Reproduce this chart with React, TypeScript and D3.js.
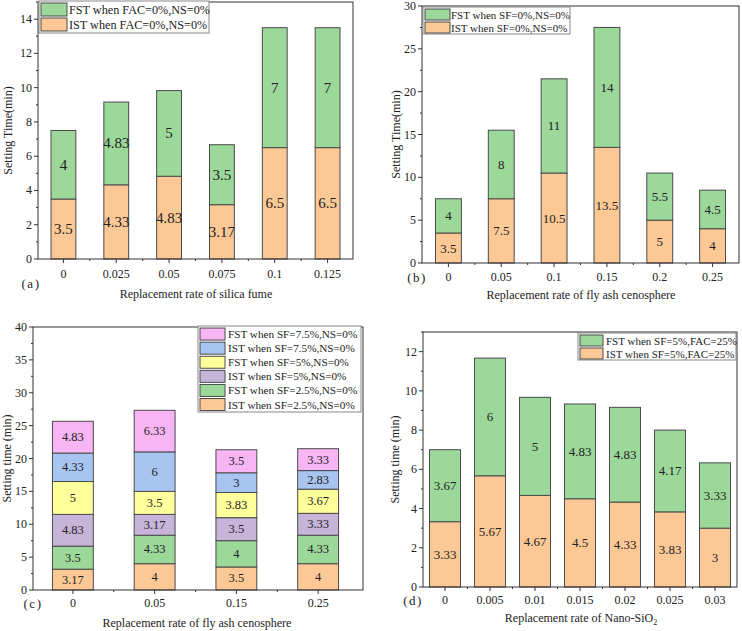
import React from 'react';
import * as d3 from 'd3';

// panel (a) data
const aCats = ['0', '0.025', '0.05', '0.075', '0.1', '0.125'];
const aIST = [3.5, 4.33, 4.83, 3.17, 6.5, 6.5];
const aFST = [4, 4.83, 5, 3.5, 7, 7];

// panel (b) data
const bCats = ['0', '0.05', '0.1', '0.15', '0.2', '0.25'];
const bIST = [3.5, 7.5, 10.5, 13.5, 5, 4];
const bFST = [4, 8, 11, 14, 5.5, 4.5];

// panel (c) data
const cCats = ['0', '0.05', '0.15', '0.25'];
const cIST25 = [3.17, 4, 3.5, 4];
const cFST25 = [3.5, 4.33, 4, 4.33];
const cIST5 = [4.83, 3.17, 3.5, 3.33];
const cFST5 = [5, 3.5, 3.83, 3.67];
const cIST75 = [4.33, 6, 3, 2.83];
const cFST75 = [4.83, 6.33, 3.5, 3.33];

// panel (d) data
const dCats = ['0', '0.005', '0.01', '0.015', '0.02', '0.025', '0.03'];
const dIST = [3.33, 5.67, 4.67, 4.5, 4.33, 3.83, 3];
const dFST = [3.67, 6, 5, 4.83, 4.83, 4.17, 3.33];

const ORANGE = '#FCC996';
const GREEN = '#9DD89B';
const PURPLE = '#C6B4D9';
const YELLOW = '#FFFF9C';
const BLUE = '#A8C5F1';
const PINK = '#F8B5F3';

const FONT = '"Liberation Serif", "Times New Roman", serif';
const INK = '#222';

type Series = { key: string; values: number[]; color: string };
type Cfg = {
  cats: string[];
  series: Series[];
  left: number; right: number; top: number; bottom: number;
  band: [number, number];
  barFrac: number;
  yMax: number; yStep: number; yMinor: number;
  labelSize: number;
  yTitle: string; yTitleX: number;
  xTitle: React.ReactNode; xTitleX: number; xTitleY: number;
  tickY: number;
  tag: string; tagX: number; tagY: number;
  legend: { x: number; y: number; w: number; h: number; row: number; swW: number; swH: number; textDx: number; size: number };
};

const panels: Cfg[] = [
  {
    cats: aCats,
    series: [
      { key: 'IST when FAC=0%,NS=0%', values: aIST, color: ORANGE },
      { key: 'FST when FAC=0%,NS=0%', values: aFST, color: GREEN },
    ],
    left: 38, right: 353, top: 2, bottom: 259, band: [37, 354], barFrac: 0.47,
    yMax: 15, yStep: 2, yMinor: 1, labelSize: 15,
    yTitle: 'Setting Time(min)', yTitleX: 8,
    xTitle: 'Replacement rate of silica fume', xTitleX: 196, xTitleY: 298,
    tickY: 278, tag: '(a)', tagX: 31, tagY: 288,
    legend: { x: 39, y: 1, w: 170, h: 32, row: 15, swW: 26, swH: 13, textDx: 30, size: 12.2 },
  },
  {
    cats: bCats,
    series: [
      { key: 'IST when SF=0%,NS=0%', values: bIST, color: ORANGE },
      { key: 'FST when SF=0%,NS=0%', values: bFST, color: GREEN },
    ],
    left: 422, right: 739, top: 6, bottom: 263, band: [422, 739], barFrac: 0.49,
    yMax: 30, yStep: 5, yMinor: 2.5, labelSize: 13,
    yTitle: 'Setting Time(min)', yTitleX: 396,
    xTitle: 'Replacement rate of fly ash cenosphere', xTitleX: 581, xTitleY: 299,
    tickY: 281, tag: '(b)', tagX: 417, tagY: 282,
    legend: { x: 423, y: 7, w: 147, h: 27, row: 13, swW: 25, swH: 11, textDx: 28, size: 11 },
  },
  {
    cats: cCats,
    series: [
      { key: 'IST when SF=2.5%,NS=0%', values: cIST25, color: ORANGE },
      { key: 'FST when SF=2.5%,NS=0%', values: cFST25, color: GREEN },
      { key: 'IST when SF=5%,NS=0%', values: cIST5, color: PURPLE },
      { key: 'FST when SF=5%,NS=0%', values: cFST5, color: YELLOW },
      { key: 'IST when SF=7.5%,NS=0%', values: cIST75, color: BLUE },
      { key: 'FST when SF=7.5%,NS=0%', values: cFST75, color: PINK },
    ],
    left: 33, right: 363, top: 327, bottom: 590, band: [32, 359], barFrac: 0.5,
    yMax: 40, yStep: 5, yMinor: 2.5, labelSize: 12.5,
    yTitle: 'Setting time (min)', yTitleX: 7,
    xTitle: 'Replacement rate of fly ash cenosphere', xTitleX: 197, xTitleY: 627,
    tickY: 607, tag: '(c)', tagX: 33, tagY: 608,
    legend: { x: 198, y: 326, w: 163, h: 86, row: 14.1, swW: 25, swH: 12, textDx: 30, size: 11.2 },
  },
  {
    cats: dCats,
    series: [
      { key: 'IST when SF=5%,FAC=25%', values: dIST, color: ORANGE },
      { key: 'FST when SF=5%,FAC=25%', values: dFST, color: GREEN },
    ],
    left: 423, right: 737, top: 332, bottom: 587, band: [422.5, 737.5], barFrac: 0.69,
    yMax: 13, yStep: 2, yMinor: 1, labelSize: 13,
    yTitle: 'Setting time (min)', yTitleX: 395,
    xTitle: (
      <>
        Replacement rate of Nano-SiO<tspan fontSize={8} dy={3}>2</tspan>
      </>
    ),
    xTitleX: 581, xTitleY: 622,
    tickY: 604, tag: '(d)', tagX: 413, tagY: 605,
    legend: { x: 578, y: 333, w: 158, h: 27, row: 13, swW: 23, swH: 11, textDx: 28, size: 11 },
  },
];

function Panel({ p }: { p: Cfg }) {
  const x = d3.scaleBand<string>().domain(p.cats).range(p.band).padding(0);
  const step = x.bandwidth();
  const bw = step * p.barFrac;
  const y = d3.scaleLinear().domain([0, p.yMax]).range([p.bottom, p.top]);

  const rows = p.cats.map((c, i) => {
    const r: any = { cat: c };
    p.series.forEach((s) => (r[s.key] = s.values[i]));
    return r;
  });
  const stacked = d3.stack<any>().keys(p.series.map((s) => s.key))(rows);

  const majors = d3.range(0, p.yMax + 1e-6, p.yStep);
  const minors = d3.range(0, p.yMax + 1e-6, p.yMinor).filter((v) => Math.abs(v / p.yStep - Math.round(v / p.yStep)) > 1e-6);
  const xMinors = p.cats.slice(0, -1).map((c) => (x(c) as number) + step);
  const L = p.legend;
  const legendItems = [...p.series].reverse();

  return (
    <g fontFamily={FONT}>
      {/* bars */}
      {stacked.map((layer, li) => (
        <g key={li}>
          {layer.map((d, i) => {
            const cx = (x(p.cats[i]) as number) + step / 2;
            const y0 = y(d[0]);
            const y1 = y(d[1]);
            return (
              <g key={i}>
                <rect x={cx - bw / 2} y={y1} width={bw} height={y0 - y1}
                  fill={p.series[li].color} stroke="#4a4a4a" strokeWidth={1} />
                <text x={cx} y={(y0 + y1) / 2} textAnchor="middle" dominantBaseline="central"
                  fontSize={p.labelSize} fill={INK}>
                  {p.series[li].values[i]}
                </text>
              </g>
            );
          })}
        </g>
      ))}

      {/* frame */}
      <rect x={p.left} y={p.top} width={p.right - p.left} height={p.bottom - p.top}
        fill="none" stroke="#333" strokeWidth={1} />

      {/* y axis */}
      {majors.map((v) => (
        <g key={'ym' + v}>
          <line x1={p.left - 4} x2={p.left} y1={y(v)} y2={y(v)} stroke="#333" />
          <text x={p.left - 6} y={y(v)} textAnchor="end" dominantBaseline="central" fontSize={12} fill={INK}>
            {v}
          </text>
        </g>
      ))}
      {minors.map((v) => (
        <line key={'yn' + v} x1={p.left - 2} x2={p.left} y1={y(v)} y2={y(v)} stroke="#333" />
      ))}

      {/* x axis */}
      {p.cats.map((c) => {
        const cx = (x(c) as number) + step / 2;
        return (
          <g key={'xt' + c}>
            <line x1={cx} x2={cx} y1={p.bottom} y2={p.bottom + 4} stroke="#333" />
            <text x={cx} y={p.tickY} textAnchor="middle" fontSize={12} fill={INK}>{c}</text>
          </g>
        );
      })}
      {xMinors.map((v, i) => (
        <line key={'xn' + i} x1={v} x2={v} y1={p.bottom} y2={p.bottom + 2} stroke="#333" />
      ))}

      {/* titles */}
      <text transform={`translate(${p.yTitleX},${(p.top + p.bottom) / 2}) rotate(-90)`}
        textAnchor="middle" dominantBaseline="central" fontSize={12} fill={INK}>
        {p.yTitle}
      </text>
      <text x={p.xTitleX} y={p.xTitleY} textAnchor="middle" fontSize={12} fill={INK}>{p.xTitle}</text>
      <text x={p.tagX} y={p.tagY} textAnchor="middle" fontSize={13} letterSpacing={1.5} fill={INK}>
        {p.tag}
      </text>

      {/* legend */}
      <rect x={L.x} y={L.y} width={L.w} height={L.h} fill="white" stroke="#888" strokeWidth={1} />
      {legendItems.map((s, i) => {
        const cy = L.y + 1 + L.row * i + L.row / 2;
        return (
          <g key={'lg' + i}>
            <rect x={L.x + 2} y={cy - L.swH / 2} width={L.swW} height={L.swH}
              fill={s.color} stroke="#4a4a4a" strokeWidth={1} />
            <text x={L.x + L.textDx} y={cy} dominantBaseline="central" fontSize={L.size} fill={INK}>
              {s.key}
            </text>
          </g>
        );
      })}
    </g>
  );
}

export default function App() {
  return (
    <svg width={742} height={631} style={{ position: 'absolute', left: 0, top: 0, background: 'white' }}>
      <rect width={742} height={631} fill="white" />
      {panels.map((p, i) => (
        <Panel key={i} p={p} />
      ))}
    </svg>
  );
}
